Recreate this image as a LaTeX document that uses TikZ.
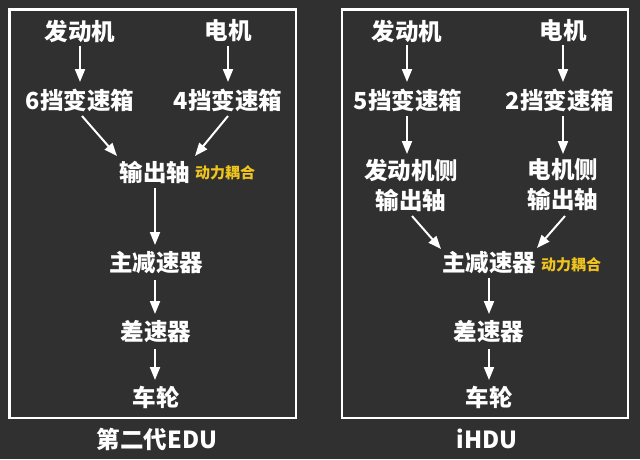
\documentclass[tikz,border=0pt]{standalone}
\usepackage{fontspec}
\setmainfont{Noto Sans CJK SC}
\usetikzlibrary{arrows.meta}
\definecolor{bg}{RGB}{48,48,48}
\definecolor{gold}{RGB}{240,196,30}
\tikzset{
  lbl/.style={text=white,font=\bfseries\fontsize{23.5}{25}\selectfont,inner sep=0pt,anchor=center},
  two/.style={lbl,align=center,font=\bfseries\fontsize{23.5}{30}\selectfont},
  tag/.style={text=gold,font=\bfseries\fontsize{15}{17}\selectfont,inner sep=0pt,anchor=center},
  arr/.style={draw=white,line width=2pt,-{Triangle[length=13pt,width=10pt]}},
  frame/.style={draw=white,line width=2.5pt}
}
\begin{document}
\begin{tikzpicture}[x=1pt,y=-1pt]
\fill[bg] (0,0) rectangle (640,459);
\useasboundingbox (0,0) rectangle (640,459);
\draw[frame] (9.5,9.5) rectangle (296,418);
\draw[frame] (342,9.5) rectangle (628,418);
% left panel
\node[lbl] (le) at (80,31) {发动机};
\node[lbl] (lm) at (228,31) {电机};
\node[lbl] (lg6) at (80,100) {6挡变速箱};
\node[lbl] (lg4) at (228,100) {4挡变速箱};
\node[lbl] (lout) at (155,172) {输出轴};
\node[tag] (ltag) at (225,173) {动力耦合};
\node[lbl] (lfd) at (156,263) {主减速器};
\node[lbl] (ldif) at (156,332) {差速器};
\node[lbl] (lwh) at (156,397) {车轮};
\node[lbl] (ltitle) at (157,439) {第二代EDU};
\draw[arr] (80,46) -- (80,82);
\draw[arr] (228,46) -- (228,82);
\draw[arr] (82,116) -- (117,156);
\draw[arr] (228,116) -- (195,156);
\draw[arr] (155,188) -- (155,245);
\draw[arr] (155,280) -- (155,314);
\draw[arr] (155,349) -- (155,380);
% right panel
\node[lbl] (re) at (407,31) {发动机};
\node[lbl] (rm) at (563,31) {电机};
\node[lbl] (rg5) at (408,100) {5挡变速箱};
\node[lbl] (rg2) at (560,100) {2挡变速箱};
\node[two] (rs1) at (411,185) {发动机侧\\输出轴};
\node[two] (rs2) at (563,185) {电机侧\\输出轴};
\node[lbl] (rfd) at (489,263) {主减速器};
\node[tag] (rtag) at (571,265) {动力耦合};
\node[lbl] (rdif) at (489,332) {差速器};
\node[lbl] (rwh) at (489,397) {车轮};
\node[lbl] (rtitle) at (487,439) {iHDU};
\draw[arr] (407,45) -- (407,82);
\draw[arr] (563,45) -- (563,82);
\draw[arr] (407,116) -- (407,154);
\draw[arr] (563,116) -- (563,154);
\draw[arr] (412,216) -- (441,249);
\draw[arr] (565,216) -- (537,248);
\draw[arr] (489,278) -- (489,314);
\draw[arr] (489,349) -- (489,380);
\end{tikzpicture}
\end{document}
